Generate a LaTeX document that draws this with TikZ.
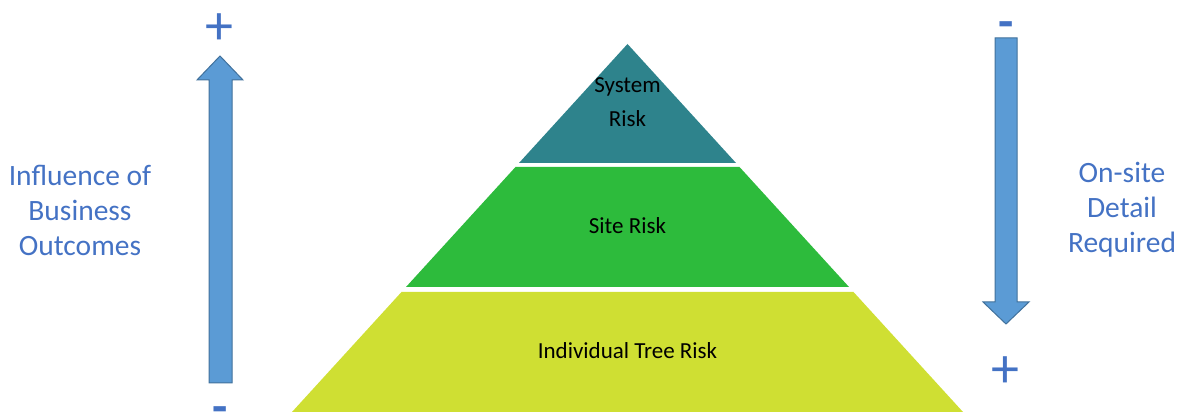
\documentclass[tikz,border=0pt]{standalone}
\usepackage{fontspec}
\setmainfont{Carlito}
\definecolor{sysc}{HTML}{2E838C}
\definecolor{sitec}{HTML}{2DBB3C}
\definecolor{indc}{HTML}{CFDF33}
\definecolor{arrfill}{HTML}{5B9BD5}
\definecolor{arrdraw}{HTML}{41719C}
\definecolor{lblc}{HTML}{4472C4}
\begin{document}
\begin{tikzpicture}[x=1pt,y=1pt,
  tier/.style={draw=none},
  bigarrow/.style={fill=arrfill,draw=arrdraw,line width=1pt,line join=miter},
  sidelabel/.style={text=lblc,font=\fontsize{29.5}{35}\selectfont,align=center,inner sep=0pt},
  sign/.style={text=lblc,font=\fontsize{56}{56}\selectfont,inner sep=0pt,anchor=north},
  minussign/.style={text=lblc,font=\bfseries\fontsize{50}{50}\selectfont,inner sep=0pt,anchor=base},
  tierlabel/.style={text=black,font=\fontsize{23}{34}\selectfont,align=center,inner sep=0pt}]
\useasboundingbox (0,0) rectangle (1181,419);
% pyramid tiers
\fill[tier,sysc] (627.5,375) -- (736,256) -- (519,256) -- cycle;
\fill[tier,sitec] (515.5,252) -- (739.5,252) -- (849,132) -- (406,132) -- cycle;
\fill[tier,indc] (401.5,127) -- (853.5,127) -- (963,7) -- (292,7) -- cycle;
% tier labels
\node[tierlabel] (sys) at (627.5,317) {System\\Risk};
\node[tierlabel] (site) at (627.5,193) {Site Risk};
\node[tierlabel] (ind) at (627.5,68) {Individual Tree Risk};
% left up arrow
\draw[bigarrow] (209,36) -- (209,339) -- (197,339) -- (220,363) -- (243,339) -- (232,339) -- (232,36) -- cycle;
% right down arrow
\draw[bigarrow] (995,381) -- (995,117) -- (983,117) -- (1006,95) -- (1029,117) -- (1017,117) -- (1017,381) -- cycle;
% side labels
\node[sidelabel] (infl) at (80,209) {Influence of\\Business\\Outcomes};
\node[sidelabel] (onsite) at (1122,209) {On-site\\Detail\\Required};
% signs
\node[sign] (lplus) at (219.5,405.7) {+};
\node[minussign] (lminus) at (220,-5) {-};
\node[minussign] (rminus) at (1006,380.3) {-};
\node[sign] (rplus) at (1005.5,62) {+};
\end{tikzpicture}
\end{document}
